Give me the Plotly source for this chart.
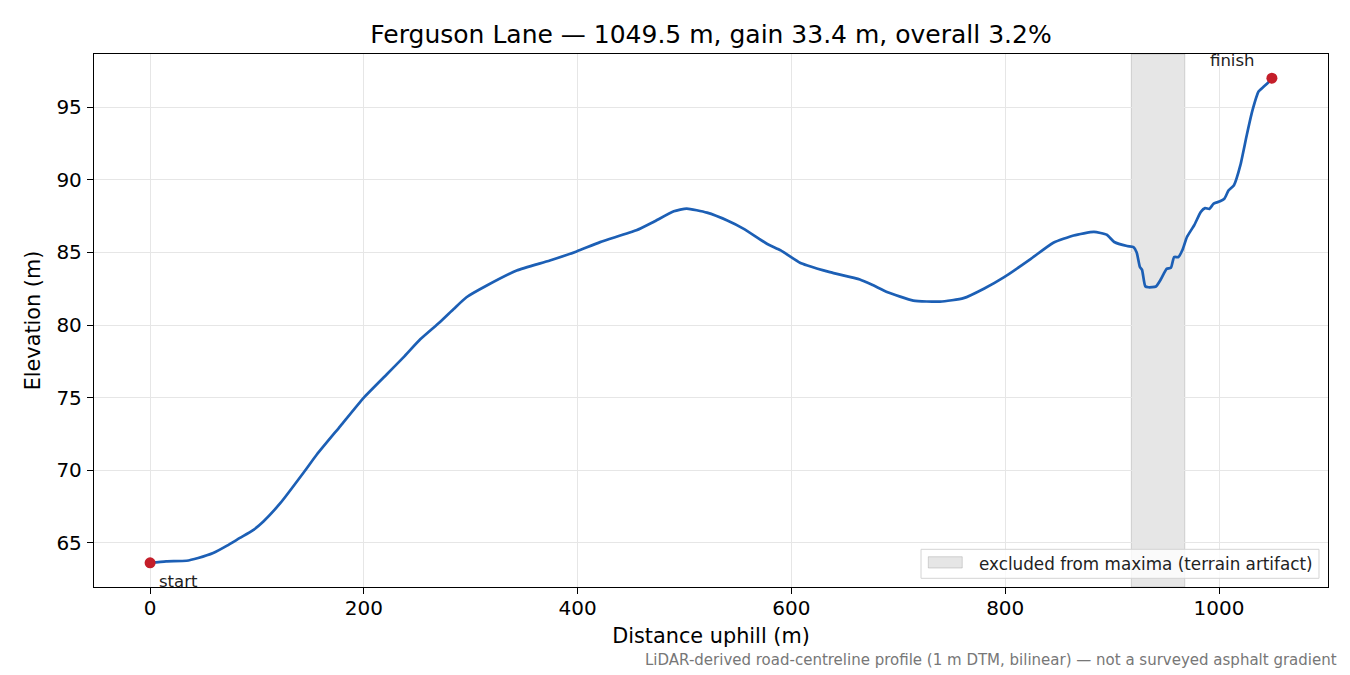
import plotly.graph_objects as go

# profile (distance uphill m, elevation m)
distance = [0, 15, 34, 45, 59, 72, 84, 96, 106, 122, 143.5, 156, 178, 200, 221.5,
            237, 253, 271, 284, 296, 315, 343, 374, 399, 421, 455, 471, 490, 502,
            521, 540, 555, 577, 590, 608, 615, 636, 664, 676, 690, 714, 739, 761,
            780, 799, 824, 845, 864, 883, 895, 902, 914, 920, 923, 926, 928, 931,
            934, 941, 946, 951, 955, 958, 962, 966, 970, 977, 983, 987, 991, 995,
            1001, 1005, 1009, 1014, 1020, 1026, 1031, 1037, 1042, 1046, 1049.5]
elevation = [63.62, 63.72, 63.76, 63.95, 64.29, 64.8, 65.33, 65.85, 66.47, 67.74,
             69.82, 71.08, 73.04, 75.0, 76.61, 77.77, 79.03, 80.19, 81.1, 81.91,
             82.72, 83.75, 84.44, 85.07, 85.71, 86.52, 87.10, 87.83, 88.02, 87.74,
             87.2, 86.64, 85.6, 85.14, 84.29, 84.1, 83.64, 83.13, 82.75, 82.26,
             81.68, 81.61, 81.85, 82.5, 83.30, 84.56, 85.67, 86.17, 86.41, 86.22,
             85.72, 85.44, 85.37, 85.0, 84.0, 83.8, 82.67, 82.6, 82.65, 83.2,
             83.87, 83.94, 84.68, 84.68, 85.2, 86.06, 86.9, 87.79, 88.05, 88.0,
             88.36, 88.52, 88.7, 89.28, 89.63, 91.01, 93.09, 94.70, 96.08, 96.43,
             96.7, 97.0]

# stretch left out of the maxima search
excluded = [918, 968]
excluded_label = "excluded from maxima (terrain artifact)"

x_ticks = [0, 200, 400, 600, 800, 1000]
y_ticks = [65, 70, 75, 80, 85, 90, 95]

FONT = "DejaVu Sans"
BAND = "rgba(128,128,128,0.2)"
BAND_EDGE = "rgba(128,128,128,0.3)"

# matplotlib-like 5% padding
xspan = distance[-1] - distance[0]
xr = [distance[0] - 0.05 * xspan, distance[-1] + 0.05 * xspan]
yspan = max(elevation) - min(elevation)
yr = [min(elevation) - 0.05 * yspan, max(elevation) + 0.05 * yspan]

fig = go.Figure()

fig.add_vrect(x0=excluded[0], x1=excluded[1], fillcolor=BAND,
              line=dict(color=BAND_EDGE, width=1), layer="below")

fig.add_trace(go.Scatter(
    x=distance, y=elevation, mode="lines",
    line=dict(color="#1c5fb5", width=2.7, shape="spline", smoothing=0.5),
    showlegend=False,
    hovertemplate="%{x:.1f} m<br>%{y:.2f} m<extra></extra>",
))

fig.add_trace(go.Scatter(
    x=[distance[0], distance[-1]], y=[elevation[0], elevation[-1]],
    mode="markers", marker=dict(color="#c41e2a", size=11),
    showlegend=False, hoverinfo="skip",
))

fig.add_annotation(x=distance[0], y=elevation[0], text="start", showarrow=False,
                   xanchor="left", yanchor="middle", xshift=7, yshift=-19,
                   font=dict(size=16.5, color="#222"))
fig.add_annotation(x=distance[-1], y=elevation[-1], text="finish", showarrow=False,
                   xanchor="center", yanchor="middle", xshift=-39, yshift=18,
                   font=dict(size=16.5, color="#222"))

# hand-made legend box (matplotlib look)
fig.add_shape(type="rect", xref="paper", yref="paper",
              x0=0.6702, x1=0.9927, y0=0.0163, y1=0.0707,
              fillcolor="rgba(255,255,255,0.8)", line=dict(color="#d4d4d4", width=1))
fig.add_shape(type="rect", xref="paper", yref="paper",
              x0=0.6761, x1=0.7036, y0=0.0356, y1=0.0568,
              fillcolor=BAND, line=dict(color=BAND_EDGE, width=1))
fig.add_annotation(xref="paper", yref="paper", x=0.7153, y=0.0435,
                   text=excluded_label, showarrow=False,
                   xanchor="left", yanchor="middle",
                   font=dict(size=16.8, color="#222"))

fig.add_annotation(xref="paper", yref="paper", x=1.009, y=-0.137,
                   text="LiDAR-derived road-centreline profile (1 m DTM, bilinear) — not a surveyed asphalt gradient",
                   showarrow=False, xanchor="right", yanchor="middle",
                   font=dict(size=15, color="#777"))

axis_common = dict(
    showline=True, linecolor="black", linewidth=1.3, mirror=True,
    ticks="outside", ticklen=6, tickcolor="black", tickwidth=1.3,
    showgrid=True, gridcolor="#e6e6e6", gridwidth=1, zeroline=False,
    tickfont=dict(size=20, color="black"),
)

fig.update_xaxes(range=xr, tickvals=x_ticks, ticklabelstandoff=-3,
                 title=dict(text="Distance uphill (m)", font=dict(size=20.8, color="black"), standoff=9),
                 **axis_common)
fig.update_yaxes(range=yr, tickvals=y_ticks, ticklabelstandoff=1,
                 title=dict(text="Elevation (m)", font=dict(size=20.8, color="black"), standoff=10),
                 **axis_common)

# page is drawn 8 px in from the window corner, so size/margins are trimmed by 8
fig.update_layout(
    width=1342, height=667,
    margin=dict(l=86, r=22, t=46, b=88),
    paper_bgcolor="white", plot_bgcolor="white",
    font=dict(family=FONT, color="black"),
    showlegend=False,
    title=dict(text="Ferguson Lane — 1049.5 m, gain 33.4 m, overall 3.2%",
               xref="paper", x=0.5, xanchor="center", y=1 - 26 / 667, yanchor="middle",
               font=dict(size=25, color="black")),
)

fig.write_html("out.html")
